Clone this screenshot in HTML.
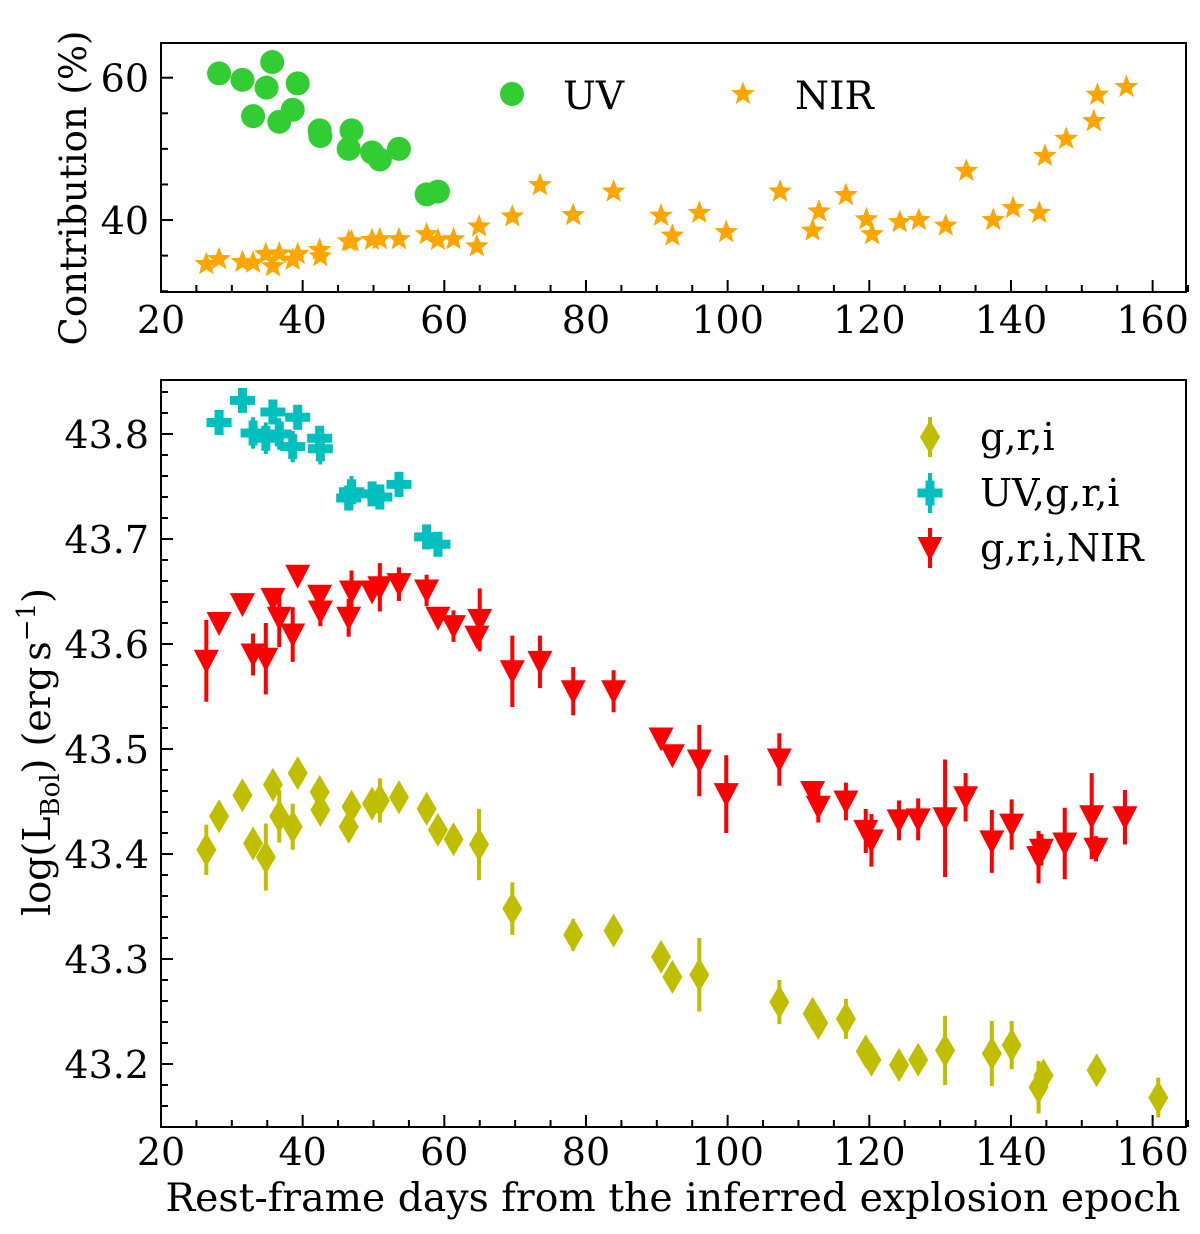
<!DOCTYPE html>
<html><head><meta charset="utf-8"><style>
html,body{margin:0;padding:0;background:#fff;}
svg{display:block;font-family:"DejaVu Serif","Liberation Serif",serif;}
</style></head><body>
<svg id="chart" width="1200" height="1234" viewBox="0 0 1200 1234" xmlns="http://www.w3.org/2000/svg">
<defs>
<clipPath id="clipTop"><rect x="161" y="43" width="1025" height="249"/></clipPath>
<clipPath id="clipBot"><rect x="161" y="380" width="1025" height="747"/></clipPath>
</defs>
<g id="topPanel"></g>
<g id="botPanel"></g>
</svg>
<script>
// ---- data ----
const uvDays = [28.2,31.5,33.0,34.9,35.7,36.7,38.6,39.3,42.4,42.5,46.5,46.9,49.8,50.9,53.6,57.5,59.1];
const uvPct = [60.6,59.7,54.6,58.6,62.2,53.8,55.5,59.2,52.6,51.8,50.0,52.6,49.5,48.5,50.0,43.6,44.0];
const nirDays = [26.4,28.2,31.5,33.0,34.8,35.8,36.7,38.6,39.3,42.4,42.5,46.5,46.9,49.8,50.9,53.6,57.5,59.1,61.3,64.9,64.6,69.6,73.5,78.2,83.9,90.6,92.2,96.0,99.8,107.4,112.0,112.9,116.7,119.6,120.4,124.3,127.0,130.8,133.7,137.5,140.3,144.0,144.8,147.8,151.7,152.2,156.3];
const nirPct = [33.8,34.5,34.1,34.0,35.2,33.5,35.3,34.4,35.2,35.8,34.9,37.0,37.0,37.2,37.3,37.3,38.0,37.2,37.3,39.1,36.3,40.5,44.9,40.7,44.0,40.6,37.8,41.0,38.3,44.0,38.5,41.2,43.5,40.1,38.0,39.7,40.0,39.2,46.9,40.0,41.7,41.0,49.0,51.4,53.9,57.6,58.7];

const griDays = [26.4,28.2,31.5,33.0,34.8,35.8,36.7,38.6,39.3,42.4,42.5,46.5,46.9,49.8,50.9,53.6,57.5,59.1,61.3,64.9,69.6,78.2,83.9,90.6,92.2,96.0,107.3,112.0,112.8,116.7,119.5,120.3,124.2,126.9,130.7,137.3,140.1,143.9,144.6,152.1,160.8];
const griL = [43.404,43.436,43.456,43.410,43.397,43.466,43.436,43.426,43.477,43.459,43.442,43.426,43.445,43.448,43.451,43.454,43.443,43.423,43.414,43.409,43.348,43.323,43.327,43.302,43.283,43.285,43.259,43.248,43.239,43.243,43.212,43.204,43.199,43.204,43.213,43.210,43.218,43.178,43.189,43.194,43.168];
const griErr = [0.024,0.008,0.006,0.012,0.032,0.008,0.025,0.022,0.006,0.008,0.012,0.014,0.010,0.008,0.021,0.006,0.008,0.006,0.006,0.034,0.025,0.015,0.013,0.006,0.006,0.035,0.021,0.008,0.008,0.019,0.006,0.006,0.008,0.008,0.033,0.031,0.023,0.025,0.010,0.008,0.019];

const uvgriDays = [28.2,31.5,33.0,34.8,35.8,36.7,38.6,39.3,42.4,42.5,46.5,46.9,49.8,50.9,53.6,57.5,59.1];
const uvgriL = [43.811,43.832,43.801,43.796,43.821,43.800,43.788,43.816,43.796,43.786,43.739,43.745,43.743,43.740,43.752,43.702,43.695];
const uvgriErr = [0.008,0.007,0.015,0.015,0.010,0.015,0.015,0.010,0.010,0.015,0.012,0.015,0.007,0.012,0.012,0.007,0.006];

const nirgriDays = [26.4,28.2,31.5,33.0,34.8,35.8,36.7,38.6,39.3,42.4,42.5,46.5,46.9,49.8,50.9,53.6,57.5,59.1,61.3,64.6,65.0,69.6,73.5,78.2,83.9,90.6,92.2,96.0,99.8,107.3,112.0,112.8,116.7,119.5,120.3,124.2,126.9,130.7,133.6,137.3,140.1,143.9,144.3,147.6,151.4,152.0,156.1];
const nirgriL = [43.584,43.620,43.638,43.590,43.586,43.643,43.625,43.609,43.665,43.646,43.631,43.625,43.650,43.650,43.654,43.657,43.651,43.625,43.617,43.607,43.623,43.574,43.583,43.555,43.555,43.510,43.494,43.489,43.457,43.490,43.459,43.445,43.450,43.422,43.413,43.432,43.433,43.434,43.454,43.412,43.428,43.397,43.404,43.410,43.436,43.405,43.435];
const nirgriErr = [0.039,0.006,0.005,0.020,0.034,0.006,0.028,0.026,0.005,0.006,0.014,0.018,0.020,0.006,0.023,0.016,0.015,0.006,0.015,0.006,0.030,0.034,0.025,0.023,0.020,0.005,0.006,0.034,0.037,0.025,0.005,0.015,0.018,0.021,0.025,0.019,0.020,0.056,0.023,0.030,0.024,0.025,0.015,0.034,0.041,0.012,0.026];

const xTicks = [20,40,60,80,100,120,140,160];
const topYTicks = [40,60];
const botYTicks = [43.2,43.3,43.4,43.5,43.6,43.7,43.8];

// ---- scales ----
const AX_L = 161, AX_R = 1186;
function xs(d){ return AX_L + (d - 20) * 7.083; }
function yTop(p){ return 77.7 + (60 - p) * 7.117; }
function yBot(v){ return 854 - (v - 43.4) * 1050; }
const TOP0 = 43, TOP1 = 292, BOT0 = 380, BOT1 = 1127;
const FS = 38;

const NS = "http://www.w3.org/2000/svg";
function mk(tag, attrs, parent){
  const e = document.createElementNS(NS, tag);
  for (const k in attrs) e.setAttribute(k, attrs[k]);
  parent.appendChild(e);
  return e;
}
function starPath(cx, cy, ro, ri){
  let s = "";
  for (let i = 0; i < 10; i++){
    const r = i % 2 ? ri : ro;
    const a = -Math.PI/2 + i * Math.PI/5;
    s += (i ? "L" : "M") + (cx + r*Math.cos(a)).toFixed(1) + "," + (cy + r*Math.sin(a)).toFixed(1);
  }
  return s + "Z";
}
function plusPath(cx, cy){
  const a = 12.5, t = 4.5;
  return `M${cx-t},${cy-a}H${cx+t}V${cy-t}H${cx+a}V${cy+t}H${cx+t}V${cy+a}H${cx-t}V${cy+t}H${cx-a}V${cy-t}H${cx-t}Z`;
}
function diamondPath(cx, cy){ return `M${cx},${cy-17}L${cx+10},${cy}L${cx},${cy+17}L${cx-10},${cy}Z`; }
function triPath(cx, cy){ return `M${cx-12.5},${cy-11}L${cx+12.5},${cy-11}L${cx},${cy+13}Z`; }

const topG = document.getElementById("topPanel");
const botG = document.getElementById("botPanel");

function axes(g, y0, y1, yTicks, yFn, minorStep, yMin, yMax, fmt, labelBase){
  for (let d = 20; d <= 165; d += 5){
    const x = xs(d); const major = d % 20 === 0;
    const t = mk("line", {x1:x, x2:x, y1:y1, y2:y1 - (major ? 12 : 7), stroke:"#000", "stroke-width":2}, g);
    
    
  }
  xTicks.forEach(d => {
    const t = mk("text", {x:xs(d), y:labelBase, "text-anchor":"middle", "font-size":FS, fill:"#000"}, g);
    t.textContent = d;
    
    
  });
  const n = Math.round((yMax - yMin) / minorStep);
  for (let i = 0; i <= n; i++){
    const v = yMin + i * minorStep; const y = yFn(v);
    if (y < y0 - 0.5 || y > y1 + 0.5) continue;
    const major = yTicks.some(t => Math.abs(t - v) < 1e-6);
    const t = mk("line", {x1:AX_L, x2:AX_L + (major ? 12 : 7), y1:y, y2:y, stroke:"#000", "stroke-width":2}, g);
    
    
  }
  yTicks.forEach(v => {
    const t = mk("text", {x:149, y:yFn(v) + 14, "text-anchor":"end", "font-size":FS, fill:"#000"}, g);
    t.textContent = fmt(v);
    
    
  });
  const fr = mk("rect", {x:AX_L, y:y0, width:AX_R - AX_L, height:y1 - y0, fill:"none", stroke:"#000", "stroke-width":2}, g);
  
  
}

// ---- top panel ----
axes(topG, TOP0, TOP1, topYTicks, yTop, 5, 25, 65, v => v, 333);
const tdata = mk("g", {"clip-path":"url(#clipTop)"}, topG);


uvDays.forEach((d, i) => {
  const c = mk("circle", {cx:xs(d), cy:yTop(uvPct[i]), r:12, fill:"#32cd32"}, tdata);
  
  
});
nirDays.forEach((d, i) => {
  const p = mk("path", {d:starPath(xs(d), yTop(nirPct[i]), 12.5, 5.3), fill:"#ffa500"}, tdata);
  
  
});
const tl1 = mk("circle", {cx:512, cy:94, r:12, fill:"#32cd32"}, topG);


const tt1 = mk("text", {x:563, y:109, "font-size":39, fill:"#000"}, topG);
tt1.textContent = "UV";


const tl2 = mk("path", {d:starPath(743, 94, 12.5, 5.3), fill:"#ffa500"}, topG);


const tt2 = mk("text", {x:795, y:109, "font-size":39, fill:"#000"}, topG);
tt2.textContent = "NIR";


const ty = mk("text", {x:0, y:0, "font-size":37, "text-anchor":"middle", fill:"#000", transform:"translate(86,188) rotate(-90)"}, topG);
ty.textContent = "Contribution (%)";



// ---- bottom panel ----
axes(botG, BOT0, BOT1, botYTicks, yBot, 0.02, 43.14, 43.86, v => v.toFixed(1), 1165);
const bdata = mk("g", {"clip-path":"url(#clipBot)"}, botG);


function series(days, vals, errs, color, shape, name){
  const g = mk("g", {}, bdata);
  
  
  days.forEach((d, i) => {
    const x = xs(d);
    const e = mk("line", {x1:x, x2:x, y1:yBot(vals[i] + errs[i]), y2:yBot(vals[i] - errs[i]), stroke:color, "stroke-width":4}, g);
    
    
  });
  days.forEach((d, i) => {
    const m = mk("path", {d:shape(xs(d), yBot(vals[i])), fill:color}, g);
    
    
  });
}
series(griDays, griL, griErr, "#bfbf00", diamondPath, "gri");
series(uvgriDays, uvgriL, uvgriErr, "#00bfbf", plusPath, "uv-gri");
series(nirgriDays, nirgriL, nirgriErr, "#ff0000", triPath, "gri-nir");

const legItems = [["g,r,i", "#bfbf00", diamondPath, 437], ["UV,g,r,i", "#00bfbf", plusPath, 493], ["g,r,i,NIR", "#ff0000", triPath, 548]];
legItems.forEach(it => {
  const ln = mk("line", {x1:930, x2:930, y1:it[3]-20, y2:it[3]+20, stroke:it[1], "stroke-width":4}, botG);
  
  
  const m = mk("path", {d:it[2](930, it[3]), fill:it[1]}, botG);
  
  
  const t = mk("text", {x:980, y:it[3] + 13, "font-size":FS, fill:"#000"}, botG);
  t.textContent = it[0];
  
  
});
const xl = mk("text", {x:673, y:1211, "font-size":39, "text-anchor":"middle", fill:"#000", textLength:1015, lengthAdjust:"spacingAndGlyphs"}, botG);
xl.textContent = "Rest-frame days from the inferred explosion epoch";


const yl = mk("text", {x:0, y:0, "font-size":38, "text-anchor":"middle", fill:"#000", transform:"translate(50,752) rotate(-90)"}, botG);
yl.innerHTML = 'log(L<tspan font-size="26" dy="9">Bol</tspan><tspan dy="-9">) (erg</tspan><tspan dx="6">s</tspan><tspan font-size="26" dy="-15">−1</tspan><tspan dy="15">)</tspan>';


</script>
</body></html>
